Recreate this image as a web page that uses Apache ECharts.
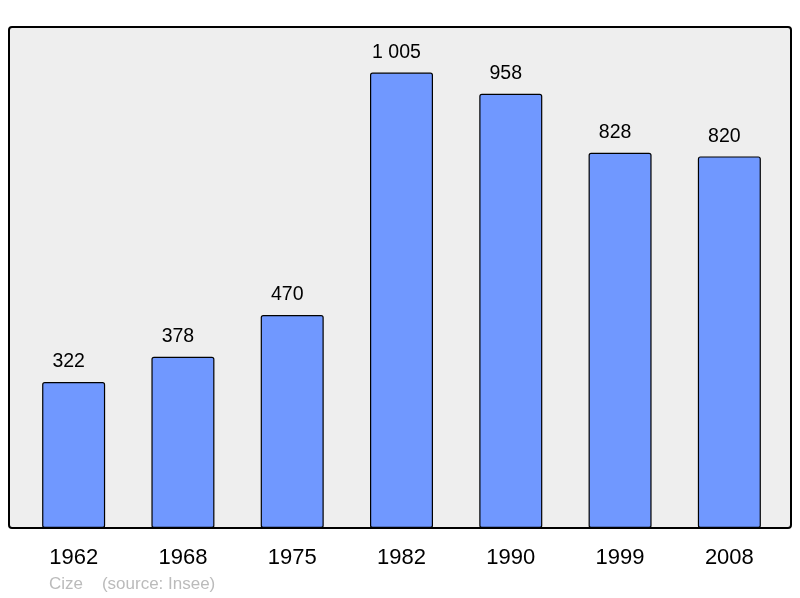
<!DOCTYPE html>
<html>
<head>
<meta charset="utf-8">
<script src="https://cdn.jsdelivr.net/npm/echarts@6/dist/echarts.min.js"></script>
<style>html,body{margin:0;padding:0;background:#fff;}#c{width:800px;height:598px;}</style>
</head>
<body>
<div id="c"></div>
<script>
const years = ['1962','1968','1975','1982','1990','1999','2008'];
const population = [322, 378, 470, 1005, 958, 828, 820];
const footer = 'Cize    (source: Insee)';

function fmt(v){ return String(v).replace(/\B(?=(\d{3})+(?!\d))/g, ' '); }

const chart = echarts.init(document.getElementById('c'), null, {renderer:'canvas'});
chart.setOption({
  animation: false,
  backgroundColor: '#ffffff',
  grid: { left: 19, right: 16, top: 27, bottom: 70, containLabel: false },
  graphic: [
    { type: 'rect', z: -10, shape: { x: 9, y: 27, width: 782, height: 501, r: 3 },
      style: { fill: '#eeeeee', stroke: '#000000', lineWidth: 2 } },
    { type: 'text', x: 49, y: 584, style: { text: footer, fill: '#bbbbbb', verticalAlign: 'middle',
      font: '17px "Liberation Sans", Arial, sans-serif' } }
  ],
  xAxis: {
    type: 'category', data: years,
    axisLine: { show: false }, axisTick: { show: false },
    axisLabel: { color: '#000', fontSize: 22, fontFamily: '"Liberation Sans", Arial, sans-serif', margin: 19 }
  },
  yAxis: {
    type: 'value', min: 0, max: 1105.5,
    show: false, splitLine: { show: false }
  },
  series: [{
    type: 'bar', data: population, barWidth: 63,
    itemStyle: { color: '#7098ff', borderColor: '#000000', borderWidth: 1.2, borderRadius: 2 },
    label: { show: true, position: 'top', distance: 10, offset: [-5, 0], color: '#000', fontSize: 19.5,
      fontFamily: '"Liberation Sans", Arial, sans-serif', formatter: p => fmt(p.value) }
  }]
});
</script>
</body>
</html>
